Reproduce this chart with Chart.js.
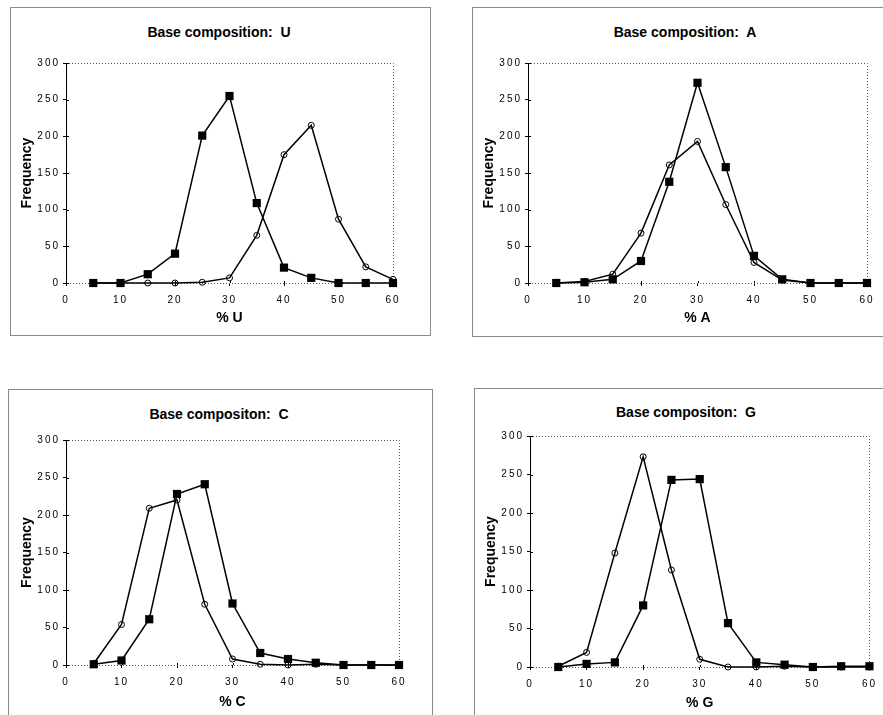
<!DOCTYPE html>
<html><head><meta charset="utf-8">
<script src="https://cdn.jsdelivr.net/npm/chart.js@4"></script>
<style>
html,body{margin:0;padding:0;background:#fff}
body{width:883px;height:715px;overflow:hidden;position:relative;font-family:"Liberation Sans",Arial,Helvetica,sans-serif}
.frame{position:absolute;border:1px solid #8a8a8a;box-sizing:border-box}
.cv{position:absolute}
.ttl{position:absolute;font-weight:bold;font-size:14px;white-space:pre;transform:translate(-50%,-50%);color:#000;line-height:16px}
</style></head><body>
<div class="frame" style="left:10px;top:7px;width:421px;height:329px"></div>
<div class="frame" style="left:472px;top:7px;width:411px;height:330px;border-right:none"></div>
<div class="frame" style="left:8px;top:389px;width:425px;height:400px"></div>
<div class="frame" style="left:474px;top:388px;width:420px;height:400px"></div>

<div class="ttl" style="left:219px;top:32px">Base composition:  U</div>
<div class="ttl" style="left:685px;top:32px">Base composition:  A</div>
<div class="ttl" style="left:219px;top:414px">Base compositon:  C</div>
<div class="ttl" style="left:686px;top:412px">Base compositon:  G</div>

<canvas id="cU" class="cv"></canvas>
<canvas id="cA" class="cv"></canvas>
<canvas id="cC" class="cv"></canvas>
<canvas id="cG" class="cv"></canvas>
<script>
// ---- data ----
const xValues = [5, 10, 15, 20, 25, 30, 35, 40, 45, 50, 55, 60];
const xTickValues = [0, 10, 20, 30, 40, 50, 60];
const yTickValues = [0, 50, 100, 150, 200, 250, 300];

const uSquares = [0, 0, 12, 40, 201, 255, 109, 21, 7, 0, 0, 0];
const uCircles = [0, 0, 0, 0, 1, 7, 65, 175, 215, 87, 22, 5];

const aSquares = [0, 1, 5, 30, 138, 273, 158, 37, 5, 0, 0, 0];
const aCircles = [0, 2, 12, 68, 161, 193, 107, 28, 4, 0, 0, 0];

const cSquares = [1, 6, 61, 228, 241, 82, 16, 8, 3, 0, 0, 0];
const cCircles = [2, 54, 209, 220, 81, 8, 1, 0, 1, 0, 0, 0];

const gSquares = [0, 4, 6, 80, 243, 244, 57, 6, 3, 0, 1, 1];
const gCircles = [1, 19, 148, 273, 126, 10, 0, 0, 1, 0, 0, 0];

const xTitles = ['% U', '% A', '% C', '% G'];
const yTitle = 'Frequency';

// ---- layout ----
const FAM = '"Liberation Sans", Arial, Helvetica, sans-serif';
const panels = [
  {id:'cU', sq:uSquares, ci:uCircles, xt:xTitles[0], box:{l:10,t:7,w:421,h:329}, plot:{l:66,t:63,r:393,b:283}, yTitleX:27, xTitleY:318},
  {id:'cA', sq:aSquares, ci:aCircles, xt:xTitles[1], box:{l:472,t:7,w:411,h:330}, plot:{l:528,t:63,r:867,b:283}, yTitleX:489, xTitleY:318},
  {id:'cC', sq:cSquares, ci:cCircles, xt:xTitles[2], box:{l:8,t:389,w:425,h:326}, plot:{l:66,t:440,r:399,b:665}, yTitleX:27, xTitleY:702},
  {id:'cG', sq:gSquares, ci:gCircles, xt:xTitles[3], box:{l:474,t:388,w:409,h:327}, plot:{l:530,t:436,r:870,b:667}, yTitleX:491, xTitleY:703}
];

const framePlugin = {
  id: 'plotFrame',
  beforeDraw(chart){ chart.ctx.letterSpacing = '0px'; },
  beforeDatasetsDraw(chart){
    const {ctx, chartArea:a, scales} = chart;
    ctx.save();
    ctx.strokeStyle = '#555';
    ctx.lineWidth = 1;
    ctx.setLineDash([1, 2]);
    ctx.beginPath();
    ctx.moveTo(a.left, Math.round(a.top) + 0.5);
    ctx.lineTo(Math.round(a.right) + 0.5, Math.round(a.top) + 0.5);
    ctx.lineTo(Math.round(a.right) + 0.5, Math.round(a.bottom) + 0.5);
    ctx.lineTo(a.left, Math.round(a.bottom) + 0.5);
    ctx.stroke();
    // inner halves of the crossing tick marks
    ctx.setLineDash([]);
    ctx.strokeStyle = '#000';
    ctx.beginPath();
    scales.y.ticks.forEach(t => {
      const py = Math.round(scales.y.getPixelForValue(t.value)) + 0.5;
      ctx.moveTo(a.left, py); ctx.lineTo(a.left + 3, py);
    });
    scales.x.ticks.forEach(t => {
      const px = Math.round(scales.x.getPixelForValue(t.value)) + 0.5;
      ctx.moveTo(px, a.bottom); ctx.lineTo(px, a.bottom - 2);
    });
    ctx.stroke();
    ctx.restore();
  },
  afterDatasetsDraw(chart){ chart.ctx.letterSpacing = '2px'; },
  afterDraw(chart){ chart.ctx.letterSpacing = '0px'; }
};

const xy = arr => arr.map((v, i) => ({x: xValues[i], y: v}));

panels.forEach(p => {
  const cv = document.getElementById(p.id);
  cv.width = p.box.w; cv.height = p.box.h;
  cv.style.left = p.box.l + 'px'; cv.style.top = p.box.t + 'px';
  const titleLH = 14 * 1.2;
  new Chart(cv, {
    type: 'line',
    data: {
      datasets: [
        {data: xy(p.ci), borderColor:'#000', borderWidth:1.5, tension:0, clip:false,
         pointStyle:'circle', pointRadius:3, pointBorderWidth:1,
         pointBackgroundColor:'rgba(0,0,0,0)', pointBorderColor:'#000'},
        {data: xy(p.sq), borderColor:'#000', borderWidth:1.5, tension:0, clip:false,
         pointStyle:'rect', pointRadius:5.8, pointBorderWidth:0,
         pointBackgroundColor:'#000', pointBorderColor:'#000'}
      ]
    },
    options: {
      responsive:false, animation:false, events:[],
      layout: {padding: {left:0, bottom:0, top: p.plot.t - p.box.t, right: p.box.l + p.box.w - p.plot.r}},
      plugins: {legend:{display:false}, tooltip:{enabled:false}, title:{display:false}},
      scales: {
        x: {
          type:'linear', min:0, max:60,
          afterBuildTicks: s => { s.ticks = xTickValues.map(v => ({value:v})); },
          afterFit: s => { s.height = p.box.t + p.box.h - p.plot.b; },
          grid: {drawOnChartArea:false, tickLength:3, color:'#000', lineWidth:1},
          border: {display:false},
          ticks: {z:1, padding:8, color:'#000', maxRotation:0, font:{size:10, family:FAM}},
          title: {display:true, text:p.xt, color:'#000', font:{size:14, weight:'bold', family:FAM},
                  padding:{top:0, bottom: (p.box.t + p.box.h) - p.xTitleY - titleLH/2}}
        },
        y: {
          type:'linear', min:0, max:300,
          afterBuildTicks: s => { s.ticks = yTickValues.map(v => ({value:v})); },
          afterFit: s => { s.width = p.plot.l - p.box.l; },
          grid: {drawOnChartArea:false, tickLength:3, color:'#000', lineWidth:1},
          border: {display:true, color:'#000', width:1},
          ticks: {z:1, padding:3, color:'#000', font:{size:10, family:FAM}},
          title: {display:true, text:yTitle, color:'#000', font:{size:14, weight:'bold', family:FAM},
                  padding:{top: (p.yTitleX - p.box.l) - titleLH/2, bottom:0}}
        }
      }
    },
    plugins: [framePlugin]
  });
});
</script>
</body></html>
